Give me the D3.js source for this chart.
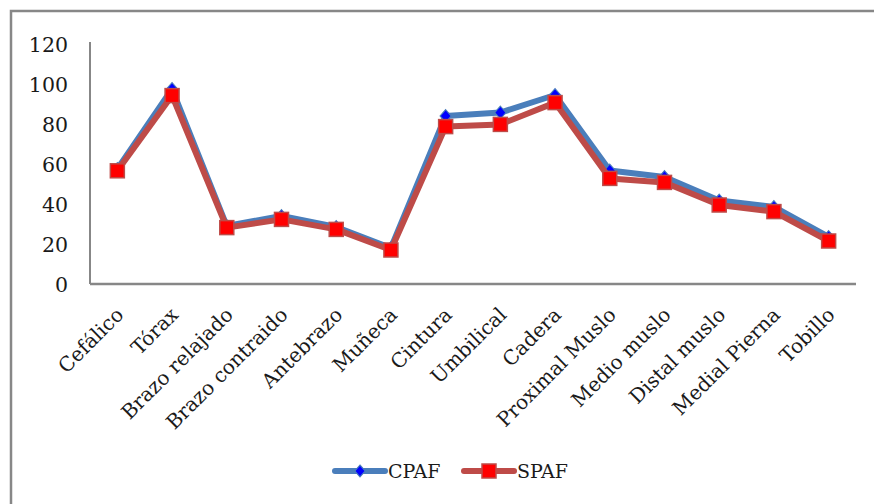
<!DOCTYPE html>
<html>
<head>
<meta charset="utf-8">
<script src="https://cdn.jsdelivr.net/npm/d3@7"></script>
<style>
  html, body { margin: 0; padding: 0; background: #ffffff; }
  svg { display: block; }
  text { font-family: "DejaVu Serif", "Liberation Serif", serif; fill: #1a1a1a; }
</style>
</head>
<body>
<svg id="chart" width="874" height="504"></svg>
<script>
// Body measurement sites
const categories = ["Cefálico", "Tórax", "Brazo relajado", "Brazo contraido", "Antebrazo",
  "Muñeca", "Cintura", "Umbilical", "Cadera", "Proximal Muslo", "Medio muslo",
  "Distal muslo", "Medial Pierna", "Tobillo"];

// Series values
const cpaf = [57.5, 97.5, 29, 34, 28.5, 18, 84, 85.7, 94.5, 56.7, 53.5, 41.7, 38.5, 23.5];
const spaf = [56.6, 94.2, 28.2, 32.3, 27.3, 17, 78.7, 79.8, 90.7, 52.8, 50.8, 39.5, 36.2, 21.5];

const yTicks = [0, 20, 40, 60, 80, 100, 120];
const seriesNames = ["CPAF", "SPAF"];

const svg = d3.select("#chart");

// Outer chart frame
svg.append("rect")
  .attr("x", 11).attr("y", 11)
  .attr("width", 872).attr("height", 505)
  .attr("fill", "none")
  .attr("stroke", "#878787")
  .attr("stroke-width", 2.5);

const plot = { left: 90, right: 856, top: 44, bottom: 284 };

const x = d3.scalePoint()
  .domain(categories)
  .range([plot.left, plot.right])
  .padding(0.5);

const y = d3.scaleLinear()
  .domain([0, 120])
  .range([plot.bottom, plot.top]);

// Y axis
const yAxis = svg.append("g")
  .attr("transform", `translate(${plot.left},0)`)
  .call(d3.axisLeft(y).tickValues(yTicks).tickSize(0).tickPadding(22));
yAxis.select(".domain")
  .attr("stroke", "#878787").attr("stroke-width", 2)
  .attr("d", `M0,${plot.bottom}V${plot.top - 2}`);
yAxis.selectAll("text")
  .style("font-family", "DejaVu Serif, serif")
  .style("font-size", "20.5px")
  .attr("fill", "#1a1a1a")
  .attr("dy", "0.36em");

// X axis with rotated category labels
const xAxis = svg.append("g")
  .attr("transform", `translate(0,${plot.bottom})`)
  .call(d3.axisBottom(x).tickSize(0).tickPadding(0));
xAxis.select(".domain")
  .attr("stroke", "#878787").attr("stroke-width", 2.5)
  .attr("d", `M${plot.left},0H${plot.right}`);
xAxis.selectAll("text")
  .style("font-family", "DejaVu Serif, serif")
  .style("font-size", "20px")
  .attr("fill", "#1a1a1a")
  .attr("text-anchor", "end")
  .attr("transform", "translate(2,27) rotate(-45)")
  .attr("x", 0).attr("y", 0).attr("dy", "0.35em");

const line = d3.line()
  .x((d, i) => x(categories[i]))
  .y(d => y(d));

// CPAF series: line with diamond markers
svg.append("path")
  .datum(cpaf)
  .attr("d", line)
  .attr("fill", "none")
  .attr("stroke", "#4a7ebb")
  .attr("stroke-width", 6)
  .attr("stroke-linejoin", "round");

const diamond = d3.symbol().type(d3.symbolDiamond2).size(80);
svg.append("g").selectAll("path")
  .data(cpaf)
  .join("path")
  .attr("d", diamond)
  .attr("transform", (d, i) => `translate(${x(categories[i])},${y(d)}) scale(1,1.15)`)
  .attr("fill", "#0000ff")
  .attr("stroke", "#4a7ebb")
  .attr("stroke-width", 1);

// SPAF series: line with square markers
svg.append("path")
  .datum(spaf)
  .attr("d", line)
  .attr("fill", "none")
  .attr("stroke", "#be4b48")
  .attr("stroke-width", 6)
  .attr("stroke-linejoin", "round");

const sq = 14;
svg.append("g").selectAll("rect")
  .data(spaf)
  .join("rect")
  .attr("x", (d, i) => x(categories[i]) - sq / 2)
  .attr("y", d => y(d) - sq / 2)
  .attr("width", sq).attr("height", sq)
  .attr("fill", "#ff0000")
  .attr("stroke", "#be4b48")
  .attr("stroke-width", 1.5);

// Legend
const legend = svg.append("g");
const legendItems = [
  { name: seriesNames[0], x0: 335, color: "#4a7ebb", marker: "diamond" },
  { name: seriesNames[1], x0: 464, color: "#be4b48", marker: "square" }
];
const ly = 471;
legendItems.forEach(it => {
  legend.append("line")
    .attr("x1", it.x0).attr("x2", it.x0 + 50)
    .attr("y1", ly).attr("y2", ly)
    .attr("stroke", it.color).attr("stroke-width", 6)
    .attr("stroke-linecap", "round");
  const cx = it.x0 + 25;
  if (it.marker === "diamond") {
    legend.append("path")
      .attr("d", d3.symbol().type(d3.symbolDiamond2).size(70))
      .attr("transform", `translate(${cx},${ly}) scale(1,1.15)`)
      .attr("fill", "#0000ff").attr("stroke", "#4a7ebb").attr("stroke-width", 1);
  } else {
    legend.append("rect")
      .attr("x", cx - 7).attr("y", ly - 7)
      .attr("width", 14).attr("height", 14)
      .attr("fill", "#ff0000").attr("stroke", "#be4b48").attr("stroke-width", 1.5);
  }
  legend.append("text")
    .attr("x", it.x0 + 53).attr("y", ly)
    .attr("dy", "0.38em")
    .style("font-size", "19px")
    .text(it.name);
});
</script>
</body>
</html>
